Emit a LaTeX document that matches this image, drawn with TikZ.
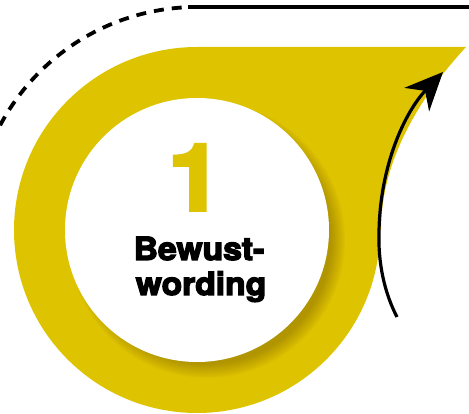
\documentclass[tikz,border=0pt]{standalone}
\usepackage{fontspec}
\setmainfont{TeX Gyre Heros}
\newfontfamily\heavyfont{TeX Gyre Heros}[FakeBold=4]
\usetikzlibrary{arrows.meta,calc}
\definecolor{ylw}{RGB}{222,195,0}
\definecolor{shd}{RGB}{120,90,0}
\begin{document}
\begin{tikzpicture}[x=1pt,y=-1pt,
  ringfill/.style={fill=ylw},
  dashline/.style={line width=3.8pt, dash pattern=on 10pt off 8pt},
  solidline/.style={line width=3.8pt},
  arrowline/.style={line width=3.2pt, -{Stealth[length=38pt,width=34pt,inset=12pt]}},
  numtext/.style={text=ylw, font=\heavyfont\bfseries\fontsize{92}{92}\selectfont, inner sep=0pt, anchor=base, xscale=1.05},
  labeltext/.style={text=black, font=\heavyfont\bfseries\fontsize{32}{35}\selectfont, inner sep=0pt, anchor=base, xscale=1.05}]
\useasboundingbox (0,0) rectangle (469,414);
\coordinate (c) at (197,230);
% yellow teardrop
\fill[ringfill] (c) circle (183);
\fill[ringfill] (197,47) -- (466,47) .. controls (420,97) and (381,160) .. (381,230) -- (c) -- cycle;
% shadow
\foreach \r in {124,125,...,138}{
  \fill[shd, opacity=0.03] ($(c)+(10,10)$) circle (\r);
}
% white disc
\fill[white] (c) circle (132);
% dashed arc and solid line
\draw[dashline] ($(c)+(-152:223)$) arc (-152:-93:223) coordinate (arcend);
\coordinate (linestart) at (188,7);
\coordinate (lineend) at (469,7);
\draw[solidline] (linestart) -- (lineend);
% arrow
\coordinate (astart) at (397,317);
\coordinate (atip) at (443,72);
\draw[arrowline] (astart) .. controls (384,292) and (378,262) .. (379,232) .. controls (380,165) and (405,112) .. (atip);
% texts
\node[numtext] (num) at (195,210) {1};
\node[labeltext] (l1) at (199,260) {Bewust-};
\node[labeltext] (l2) at (201,295) {wording};
\end{tikzpicture}
\end{document}
